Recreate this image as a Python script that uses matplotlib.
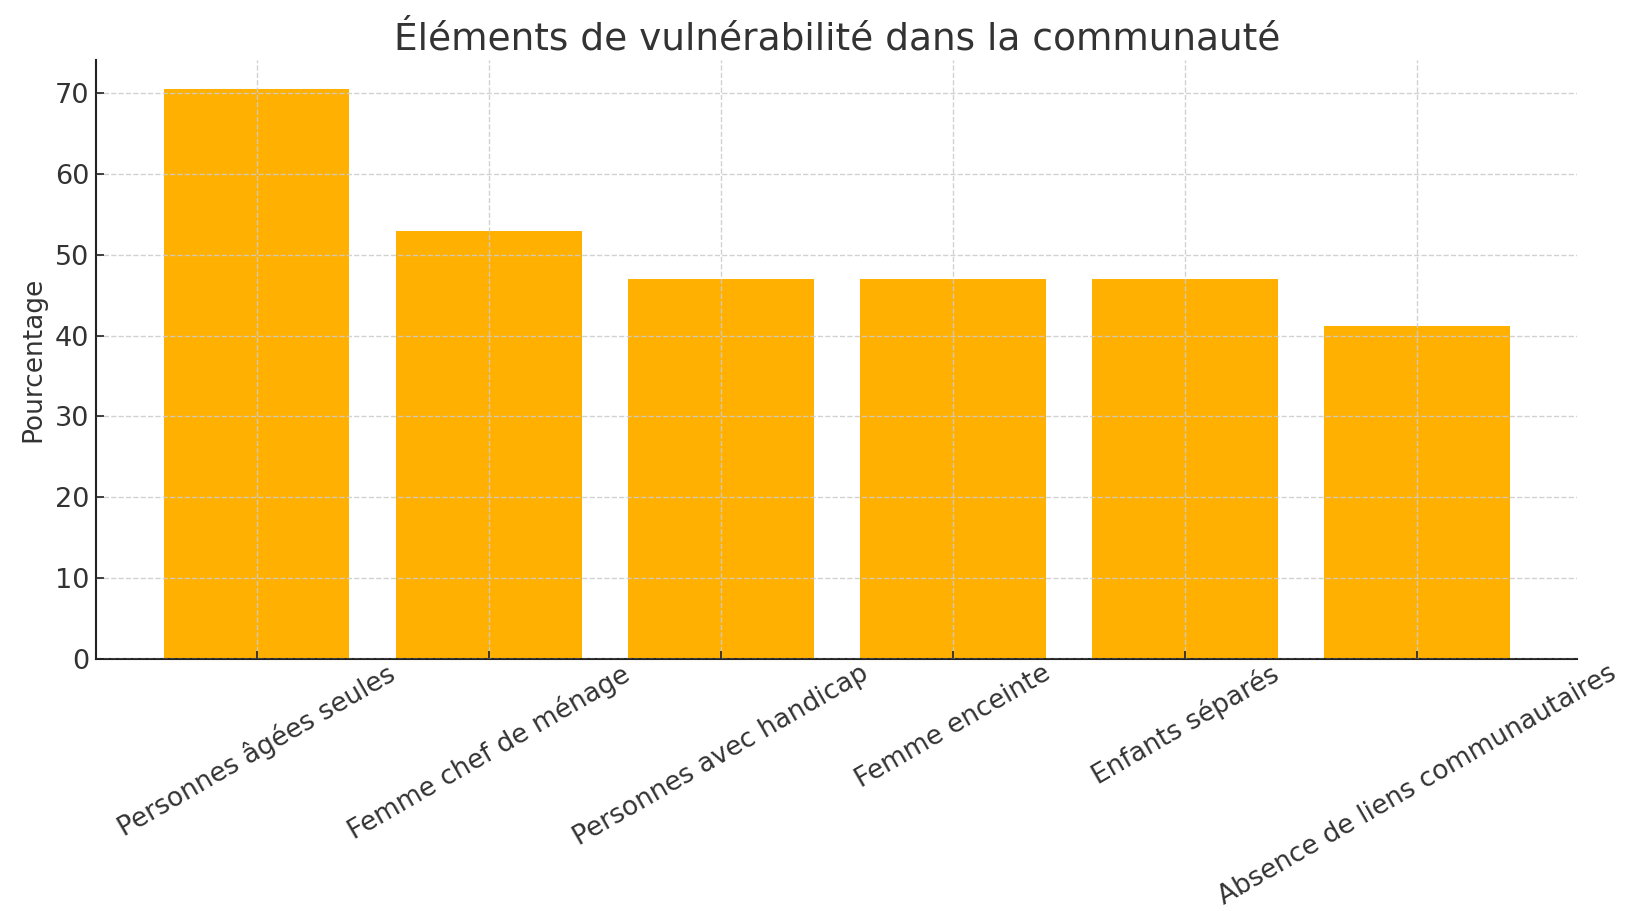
import matplotlib
matplotlib.use("Agg")
import matplotlib.pyplot as plt

plt.rcParams["font.family"] = ["DejaVu Sans"]

# Share of respondents citing each vulnerability factor
categories = [
    "Personnes âgées seules",
    "Femme chef de ménage",
    "Personnes avec handicap",
    "Femme enceinte",
    "Enfants séparés",
    "Absence de liens communautaires",
]
percentages = [70.59, 52.94, 47.06, 47.06, 47.06, 41.18]

text_color = "#333333"
bar_color = "#FFB000"

fig, ax = plt.subplots(figsize=(16.33, 9.11), dpi=100)

ax.bar(categories, percentages, color=bar_color, width=0.8)

ax.set_title("Éléments de vulnérabilité dans la communauté", fontsize=27, color=text_color, pad=8)
ax.set_ylabel("Pourcentage", fontsize=19, color=text_color, labelpad=6)

# grid drawn over the bars, as in the original
ax.set_axisbelow(False)
ax.grid(True, linestyle="--", color="#cccccc", linewidth=1.0, alpha=0.9)

for side in ("top", "right"):
    ax.spines[side].set_visible(False)
for side in ("left", "bottom"):
    ax.spines[side].set_color("#222222")
    ax.spines[side].set_linewidth(1.5)

# ticks point inward like the original
ax.tick_params(axis="both", direction="in", labelsize=19.5, colors="#222222",
               labelcolor=text_color, length=5.5, width=1.2, pad=5)
ax.tick_params(axis="x", pad=1, labelsize=19)
plt.setp(ax.get_xticklabels(), rotation=30, ha="center")

fig.subplots_adjust(left=0.059, right=0.966, top=0.934, bottom=0.277)
fig.savefig("out.png", dpi=100)
